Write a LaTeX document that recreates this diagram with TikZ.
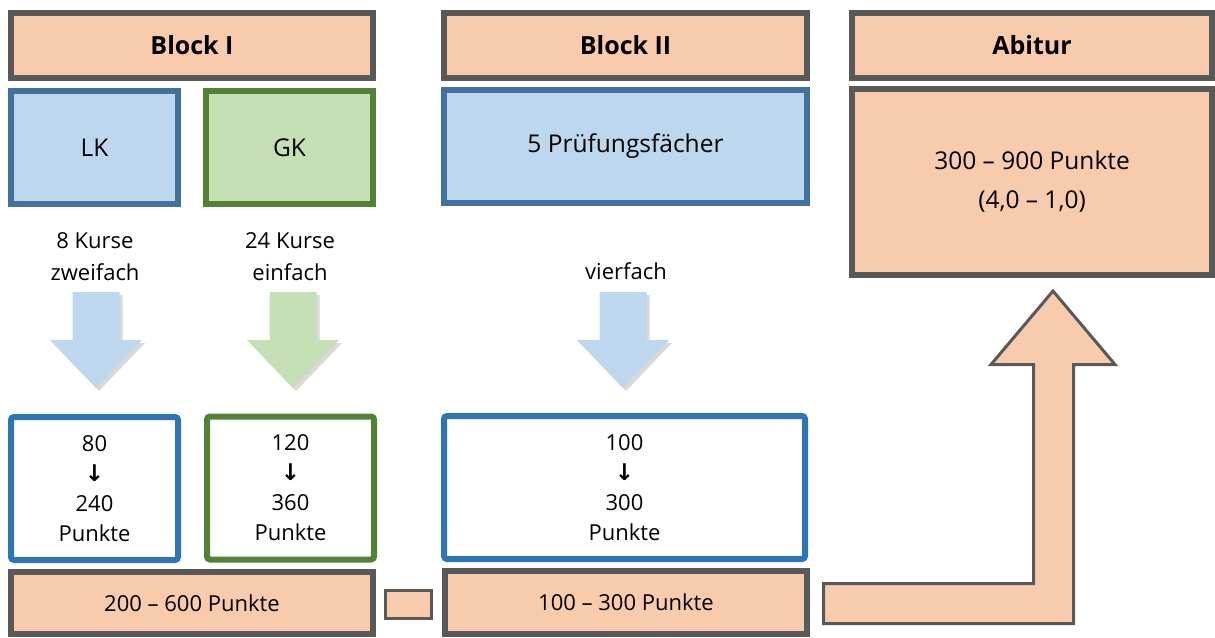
\documentclass[tikz,border=0pt]{standalone}
\usepackage{fontspec}
\setmainfont{Open Sans}
\newfontfamily\arrowfont{DejaVu Sans}
\usepackage{tikz}
\usetikzlibrary{shadows}
\definecolor{peach}{HTML}{F8CBAD}
\definecolor{frame}{HTML}{595959}
\definecolor{lightblue}{HTML}{BDD7EE}
\definecolor{steelblue}{HTML}{41719C}
\definecolor{midblue}{HTML}{2E75B6}
\definecolor{lightgreen}{HTML}{C5E0B4}
\definecolor{darkgreen}{HTML}{538135}
\newcommand{\dn}{{\arrowfont\bfseries\fontsize{23}{30}\selectfont ↓}}
% block arrow pointing down, centred at x = #1
\newcommand{\downblock}[2]{%
  \fill[#2, drop shadow = {shadow xshift=3pt, shadow yshift=-3pt, opacity=.3}]
    (#1-23.5,292) -- (#1+23.5,292) -- (#1+23.5,340) -- (#1+46,340)
    -- (#1,388) -- (#1-46,340) -- (#1-23.5,340) -- cycle;}
\tikzset{
  every picture/.style = {
    x = 1pt,
    y = -1pt
  }
  ,
  head/.style = {
    rectangle,
    draw = frame,
    fill = peach,
    line width = 6pt,
    inner sep = 0pt,
    font = \fontsize{25}{30}\selectfont\bfseries
  }
  ,
  total/.style = {
    head,
    align = center,
    font = \fontsize{24.5}{39}\selectfont
  }
  ,
  course/.style = {
    rectangle,
    line width = 6pt,
    inner sep = 0pt,
    font = \fontsize{24.5}{30}\selectfont
  }
  , % boxes with the points
  result/.style = {
    rectangle,
    rounded corners = 3pt,
    fill = white,
    line width = 6pt,
    inner sep = 0pt,
    align = center,
    font = \fontsize{22}{30}\selectfont
  }
  , % texts above the arrows
  label-text/.style = {
    align = center,
    inner sep = 0pt,
    font = \fontsize{22}{32}\selectfont
  }
}
\begin{document}
\begin{tikzpicture}
  \useasboundingbox (0,0) rectangle (1215,637);
  % top row
  \node[head, minimum width=362pt, minimum height=65pt] (b1) at (192,45.5) {Block I};
  \node[head, minimum width=363pt, minimum height=65pt] (b2) at (625.5,45.5) {Block II};
  \node[head, minimum width=360pt, minimum height=65pt] (b3) at (1032,45.5) {Abitur};
  \node[course, draw=steelblue, fill=lightblue, minimum width=167pt, minimum height=113pt] (lk) at (94.5,147.5) {LK};
  \node[course, draw=darkgreen, fill=lightgreen, minimum width=167pt, minimum height=113pt] (gk) at (289.5,147.5) {GK};
  \node[course, draw=steelblue, fill=lightblue, minimum width=363pt, minimum height=113pt] (pf) at (625.5,146.5) {5 Prüfungsfächer};
  \node[total, minimum width=360pt, minimum height=186pt] (abi) at (1032,182) {300 – 900 Punkte\\(4,0 – 1,0)};
  % factors
  \node[label-text] (lkl) at (95,257) {8 Kurse\\zweifach};
  \node[label-text] (gkl) at (290,257) {24 Kurse\\einfach};
  \node[label-text] (pfl) at (626,271) {vierfach};
  \downblock{96}{lightblue}
  \downblock{293}{lightgreen}
  \downblock{623}{lightblue}
  % points
  \node[result, draw=midblue, minimum width=167pt, minimum height=143pt] (lkp) at (94.5,488.5) {80\\\dn\\240\\Punkte};
  \node[result, draw=darkgreen, minimum width=167pt, minimum height=143pt] (gkp) at (290.5,488) {120\\\dn\\360\\Punkte};
  \node[result, draw=midblue, minimum width=361pt, minimum height=143pt] (pfp) at (624.5,487.5) {100\\\dn\\300\\Punkte};
  % sums
  \node[head, font=\fontsize{22}{30}\selectfont, minimum width=362pt, minimum height=62pt] (s1) at (192,603) {200 – 600 Punkte};
  \node[head, line width=3pt, minimum width=46pt, minimum height=28pt] (plus) at (408.5,604.5) {};
  \node[head, font=\fontsize{22}{30}\selectfont, minimum width=362pt, minimum height=63pt] (s2) at (626,602.5) {100 – 300 Punkte};
  \draw[frame, fill=peach, line width=3pt] (823.5,583.5) -- (1033.5,583.5) -- (1033.5,364.5)
    -- (991,364.5) -- (1053,291) -- (1115,364.5) -- (1073.5,364.5)
    -- (1073.5,623.5) -- (823.5,623.5) -- cycle;
\end{tikzpicture}
\end{document}
